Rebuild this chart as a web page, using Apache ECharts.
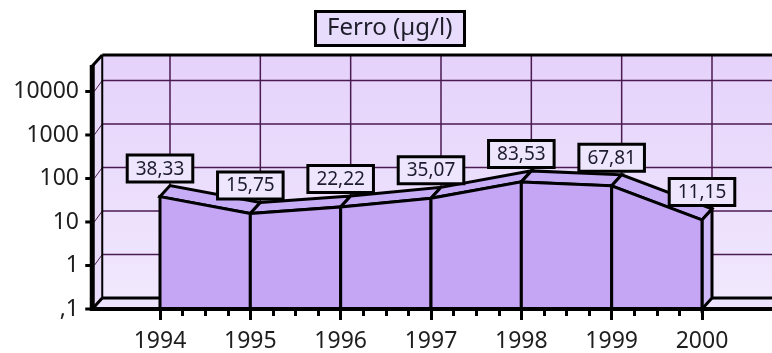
<!DOCTYPE html>
<html>
<head>
<meta charset="utf-8">
<script src="https://cdn.jsdelivr.net/npm/echarts@6/dist/echarts.min.js"></script>
<style>
  html, body { margin: 0; padding: 0; background: #ffffff; }
  #chart { width: 772px; height: 353px; }
</style>
</head>
<body>
<div id="chart"></div>
<script>
// Annual iron concentration
const years = [1994, 1995, 1996, 1997, 1998, 1999, 2000];
const ferro = [38.33, 15.75, 22.22, 35.07, 83.53, 67.81, 11.15];
const decades = [0.1, 1, 10, 100, 1000, 10000];
const chartTitle = 'Ferro (µg/l)';

// Extent of the pseudo-3D box (data units) and the depth shift in pixels
const Y_MIN = 0.1, Y_MAX = 38500;
const X_LEFT = 1993.25, X_RIGHT = 2001.2;
const DEPTH = [10, -11];

const FONT = '"Noto Sans", "DejaVu Sans", sans-serif';
const INK = '#000000';
const GRID_INK = '#4a1a50';

function fmtComma(v) {
  return v.toFixed(2).replace('.', ',');
}

function renderScene(params, api) {
  const P = (x, y) => api.coord([x, y]);
  const back = (p) => [p[0] + DEPTH[0], p[1] + DEPTH[1]];
  const out = [];
  const poly = (pts, fill, stroke, lw) => out.push({
    type: 'polygon', shape: { points: pts },
    style: { fill: fill, stroke: stroke || null, lineWidth: lw || 0, lineJoin: 'miter' }
  });
  const line = (a, b, stroke, lw) => out.push({
    type: 'line', shape: { x1: a[0], y1: a[1], x2: b[0], y2: b[1] },
    style: { stroke: stroke, lineWidth: lw, lineCap: 'butt' }
  });

  const fBL = P(X_LEFT, Y_MIN), fTL = P(X_LEFT, Y_MAX);
  const fBR = P(X_RIGHT, Y_MIN), fTR = P(X_RIGHT, Y_MAX);

  // back wall
  poly([back(fTL), back(fTR), back(fBR), back(fBL)],
    new echarts.graphic.LinearGradient(0, 0, 0, 1, [
      { offset: 0, color: '#e5d2fb' },
      { offset: 1, color: '#f1e8fd' }
    ]));
  // left side wall
  poly([fTL, back(fTL), back(fBL), fBL], '#e9dcfa');
  // floor
  poly([fBL, back(fBL), back(fBR), fBR], '#ede3fc');

  // gridlines on back wall and left wall
  decades.forEach(function (d) {
    const a = P(X_LEFT, d), b = P(X_RIGHT, d);
    if (d !== Y_MIN) line(back(a), back(b), GRID_INK, 1.5);
    line([a[0] + 2, a[1]], back(a), GRID_INK, 1);
  });
  years.forEach(function (yr) {
    const a = P(yr, Y_MIN), b = P(yr, Y_MAX);
    line(back(a), back(b), GRID_INK, 1.5);
  });

  // box edges behind the data
  line(back(fTL), back(fTR), INK, 3);
  line(back(fTL), back(fBL), INK, 2);
  line(back(fBL), back(fBR), INK, 3);
  line(fTL, back(fTL), INK, 3);
  line(fBL, back(fBL), INK, 3);

  // area: top strip, front faces and right end face
  const top = years.map((yr, i) => P(yr, ferro[i]));
  const base = years.map((yr) => P(yr, Y_MIN));
  for (let i = 0; i < years.length - 1; i++) {
    poly([top[i], top[i + 1], back(top[i + 1]), back(top[i])], '#c7acf6', INK, 3);
  }
  const n = years.length - 1;
  poly([top[n], back(top[n]), back(base[n]), base[n]], '#cfb8f8', INK, 3);
  for (let i = 0; i < years.length - 1; i++) {
    poly([top[i], top[i + 1], base[i + 1], base[i]], '#c4a6f5', INK, 3);
  }

  // front axes
  line([fBL[0] - 2, fBL[1]], [fBR[0], fBR[1]], INK, 4);
  line([fTL[0], fTL[1] - 1], [fBL[0], fBL[1] + 2], INK, 5);
  decades.forEach(function (d) {
    const a = P(X_LEFT, d);
    line([a[0] - 7, a[1]], [a[0], a[1]], INK, 3);
  });

  return { type: 'group', children: out };
}

const chart = echarts.init(document.getElementById('chart'), null, { renderer: 'canvas' });

chart.setOption({
  animation: false,
  backgroundColor: '#ffffff',
  title: {
    text: chartTitle,
    left: 315,
    top: 11,
    padding: [5, 12, 6, 12],
    backgroundColor: '#e7dcfc',
    borderColor: INK,
    borderWidth: 3,
    textStyle: { fontFamily: FONT, fontSize: 24, fontWeight: 'normal', color: '#1e1e2a' }
  },
  grid: { left: 160, right: 70, top: 66, bottom: 44, containLabel: false },
  xAxis: {
    type: 'value',
    min: 1994,
    max: 2000,
    interval: 1,
    axisLine: { show: false },
    splitLine: { show: false },
    axisTick: { show: true, length: 11, lineStyle: { color: INK, width: 3 } },
    minorTick: { show: true, splitNumber: 4, length: 7, lineStyle: { color: INK, width: 3 } },
    minorSplitLine: { show: false },
    axisLabel: {
      margin: 21,
      fontFamily: FONT, fontSize: 23, color: '#1e1e1e',
      formatter: (v) => String(v)
    }
  },
  yAxis: {
    type: 'log',
    logBase: 10,
    min: Y_MIN,
    max: Y_MAX,
    offset: 68,
    axisLine: { show: false },
    axisTick: { show: false },
    splitLine: { show: false },
    axisLabel: {
      margin: 13,
      padding: [9, 0, 0, 0],
      fontFamily: FONT, fontSize: 23, color: '#1e1e1e',
      formatter: function (v) {
        const e = Math.log10(v);
        if (Math.abs(e - Math.round(e)) > 1e-6) return '';
        const r = Math.round(e);
        if (r < 0) return ',' + '0'.repeat(-r - 1) + '1';
        return '1' + '0'.repeat(r);
      }
    }
  },
  series: [
    {
      type: 'custom',
      coordinateSystem: 'cartesian2d',
      clip: false,
      silent: true,
      z: 1,
      data: [[years[0], ferro[0]]],
      renderItem: renderScene
    },
    {
      type: 'scatter',
      z: 5,
      symbolSize: 0,
      silent: true,
      itemStyle: { opacity: 1 },
      data: years.map((yr, i) => [yr, ferro[i]]),
      label: {
        show: true,
        position: 'top',
        distance: 16,
        formatter: (p) => fmtComma(p.value[1]),
        fontFamily: FONT,
        fontSize: 19,
        color: '#1c1c2c',
        opacity: 1,
        backgroundColor: '#eee6fd',
        borderColor: INK,
        borderWidth: 3,
        padding: [3, 7, 2, 7]
      }
    }
  ]
});
</script>
</body>
</html>
